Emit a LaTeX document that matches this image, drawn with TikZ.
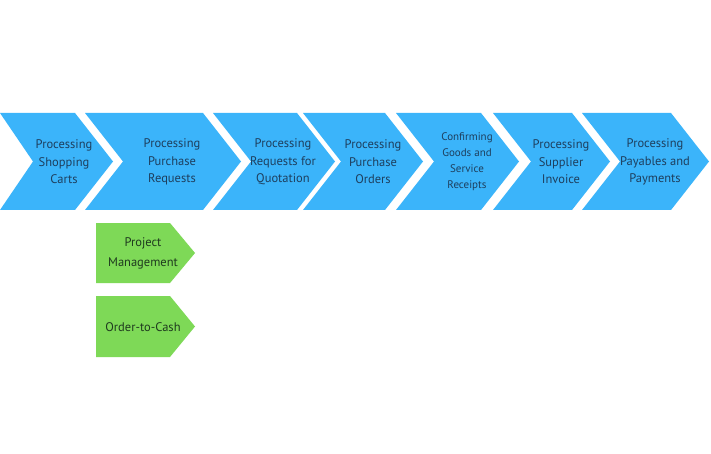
\documentclass[tikz,border=0pt]{standalone}
\usepackage{fontspec}
\setmainfont{PT Sans}
\definecolor{chevblue}{HTML}{3BB4FA}
\definecolor{chevgreen}{HTML}{7ED957}
\definecolor{bluetext}{HTML}{1E3F5E}
\definecolor{greentext}{HTML}{1F3A1F}
\begin{document}
\begin{tikzpicture}[x=1pt,y=-1pt,
  bluelbl/.style={text=bluetext,align=center,font=\fontsize{12.5}{17.5}\selectfont},
  smalllbl/.style={text=bluetext,align=center,font=\fontsize{11}{16}\selectfont},
  greenlbl/.style={text=greentext,align=center,font=\fontsize{12.5}{20}\selectfont}]
\useasboundingbox[fill=white] (0,0) rectangle (711,454);
% blue chevrons
\def\dd{38}
\fill[chevblue] (0,113) -- (75,113) -- (113,161.5) -- (75,210) -- (0,210) -- (33,161.5) -- cycle;
\foreach \a/\b in {85/203, 213/297, 303/385, 396/481, 493/572, 582/671}{
  \fill[chevblue] (\a,113) -- (\b,113) -- (\b+\dd,161.5) -- (\b,210) -- (\a,210) -- (\a+\dd,161.5) -- cycle;
}
\node[bluelbl] (n1) at (64,162) {Processing\\Shopping\\Carts};
\node[bluelbl] (n2) at (172,162) {Processing\\Purchase\\Requests};
\node[bluelbl] (n3) at (283,162) {Processing\\Requests for\\Quotation};
\node[bluelbl] (n4) at (373,162) {Processing\\Purchase\\Orders};
\node[smalllbl] (n5) at (467,162) {Confirming\\Goods and\\Service\\Receipts};
\node[bluelbl] (n6) at (561,162) {Processing\\Supplier\\Invoice};
\node[bluelbl] (n7) at (655,162) {Processing\\Payables and\\Payments};
% green pentagons
\fill[chevgreen] (96,223) -- (170,223) -- (195,253) -- (170,283) -- (96,283) -- cycle;
\fill[chevgreen] (96,296) -- (170,296) -- (195,326.5) -- (170,357) -- (96,357) -- cycle;
\node[greenlbl] (g1) at (143,253) {Project\\Management};
\node[greenlbl] (g2) at (143,327) {Order-to-Cash};
\end{tikzpicture}
\end{document}
